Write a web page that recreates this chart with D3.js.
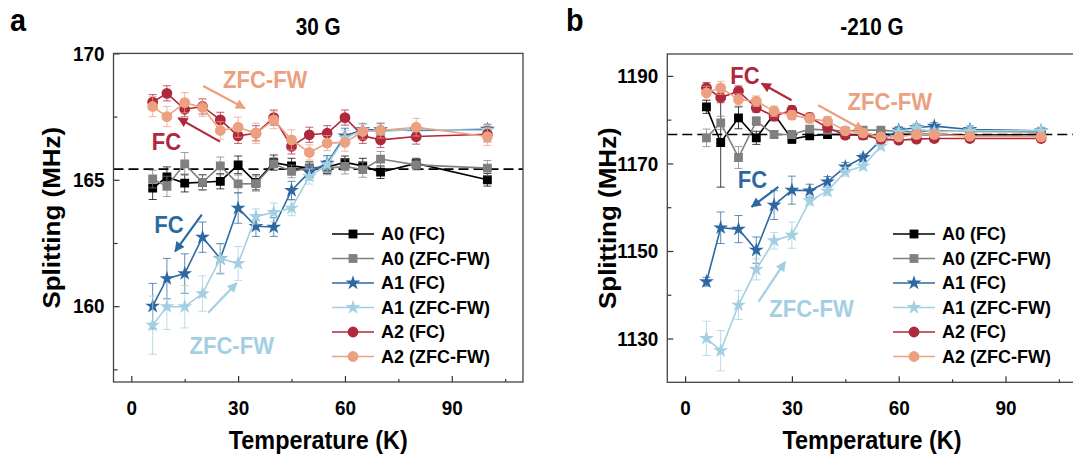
<!DOCTYPE html>
<html><head><meta charset="utf-8">
<script src="https://cdn.jsdelivr.net/npm/d3@7"></script>
<style>
body{margin:0;background:#fff}
svg{display:block}
text{font-family:"Liberation Sans",Arial,sans-serif;font-weight:bold}
</style>
</head><body>
<svg id="chart" width="1073" height="457"></svg>
<script>
// ---------------- DATA ----------------
const temps = [6,10,15,20,25,30,35,40,45,50,55,60,65,70,80,100];
const seriesNames = ["A0 (FC)","A0 (ZFC-FW)","A1 (FC)","A1 (ZFC-FW)","A2 (FC)","A2 (ZFC-FW)"];
const seriesColors = ["#000000","#808080","#2d68a2","#a3cfe3","#b0283b","#eca07f"];
const seriesShapes = ["square","square","star","star","circle","circle"];

// Panel a (30 G)
const aA0fc     = [164.67,165.11,164.87,164.90,164.94,165.59,164.90,165.68,165.55,165.46,165.50,165.69,165.55,165.30,165.65,165.00];
const aA0fcErr  = [0.45,0.40,0.35,0.30,0.30,0.35,0.30,0.30,0.30,0.25,0.25,0.25,0.30,0.25,0.20,0.25];
const aA0zfc    = [165.03,164.74,165.63,164.90,165.55,164.84,164.85,165.63,165.33,165.46,165.45,165.53,165.40,165.82,165.59,165.46];
const aA0zfcErr = [0.35,0.40,0.45,0.30,0.35,0.35,0.30,0.25,0.25,0.25,0.25,0.30,0.30,0.30,0.20,0.30];
const aA1fc     = [160.00,161.09,161.29,162.73,161.88,163.88,163.16,163.13,164.58,165.30,165.66,166.74,166.98,166.98,166.95,167.00];
const aA1fcErr  = [0.90,0.80,0.78,0.60,0.60,0.60,0.40,0.37,0.36,0.30,0.30,0.30,0.25,0.25,0.20,0.20];
const aA1zfc    = [159.25,159.98,159.98,160.50,161.88,161.69,163.55,163.71,163.88,165.13,165.60,166.66,166.95,166.90,167.00,166.95];
const aA1zfcErr = [1.15,0.90,0.84,0.70,0.57,0.67,0.30,0.37,0.30,0.30,0.30,0.30,0.25,0.25,0.20,0.20];
const aA2fc     = [168.07,168.42,167.79,167.90,167.37,166.74,166.84,167.46,166.32,166.78,166.84,167.46,166.74,166.58,166.71,166.80];
const aA2fcErr  = [0.30,0.30,0.30,0.30,0.30,0.30,0.30,0.30,0.30,0.30,0.30,0.30,0.30,0.30,0.30,0.30];
const aA2zfc    = [167.90,167.50,168.05,167.86,166.95,167.08,166.84,167.37,166.58,166.08,166.45,166.48,166.91,166.95,167.08,166.71];
const aA2zfcErr = [0.40,0.40,0.40,0.35,0.35,0.40,0.40,0.35,0.40,0.30,0.30,0.35,0.30,0.30,0.35,0.35];
const aRef = 165.42;

// Panel b (-210 G)
const bA0fc     = [1182.93,1174.79,1180.42,1175.85,1181.26,1175.55,1176.31,1176.61,1176.60,1176.50,1176.60,1176.70,1176.60,1176.60,1176.50,1176.60];
const bA0fcErr  = [1.5,10.2,2.5,1.5,1.5,1.0,0.8,0.8,0.6,0.6,0.6,0.6,0.6,0.6,0.6,0.6];
const bA0zfc    = [1175.85,1179.28,1171.36,1179.66,1176.61,1176.61,1177.83,1177.60,1177.40,1177.60,1177.60,1177.30,1177.20,1177.50,1177.30,1177.20];
const bA0zfcErr = [2.0,1.5,2.5,1.0,0.8,0.8,0.8,0.7,0.6,0.6,0.6,0.6,0.6,0.6,0.6,0.6];
const bA1fc     = [1142.98,1155.30,1155.00,1150.20,1160.48,1163.90,1163.75,1165.80,1169.23,1171.36,1175.32,1177.60,1178.20,1178.52,1177.76,1177.45];
const bA1fcErr  = [1.0,3.6,3.1,3.0,3.3,3.2,1.5,1.2,1.0,0.8,0.8,0.8,0.8,0.8,0.8,0.8];
const bA1zfc    = [1130.04,1127.22,1137.65,1145.79,1152.34,1153.63,1161.47,1163.68,1168.09,1169.38,1173.95,1177.22,1177.98,1177.22,1177.45,1177.45];
const bA1zfcErr = [3.9,4.6,3.3,2.4,1.9,3.0,1.0,1.0,1.0,0.8,0.8,0.8,0.8,0.8,0.8,0.8];
const bA2fc     = [1187.27,1185.06,1186.51,1182.70,1180.80,1182.17,1180.50,1178.20,1176.46,1176.46,1175.55,1175.32,1175.55,1175.70,1175.70,1175.70];
const bA2fcErr  = [1.2,1.2,1.2,1.0,1.0,1.0,1.0,0.8,0.8,0.8,0.8,0.8,0.8,0.8,0.8,0.8];
const bA2zfc    = [1186.13,1187.27,1184.60,1184.22,1181.94,1181.03,1180.27,1179.66,1177.45,1176.99,1176.08,1176.08,1176.61,1176.61,1176.23,1176.08];
const bA2zfcErr = [1.5,1.5,1.3,1.2,1.2,1.0,1.0,1.0,0.8,0.8,0.8,0.8,0.8,0.8,0.8,0.8];
const bRef = 1176.6;

// tick labels
const xMajorTicks = [0,30,60,90];
const xMinorTicks = [15,45,75,105];
const aYMajor = [160,165,170];
const aYMinor = [157.5,162.5,167.5];
const bYMajor = [1130,1150,1170,1190];
const bYMinor = [1140,1160,1180];

// annotations: [text, colorIndex, textT, textV, arrowT0, arrowV0, arrowT1, arrowV1]
const aNotes = [
  ["ZFC-FW",5, 37.6,168.62, 20.2,168.71, 31.9,167.83],
  ["FC",4, 9.9,166.19, 24.9,166.51, 13.2,167.44],
  ["FC",2, 10.6,162.9, 19.8,163.62, 12.3,162.17],
  ["ZFC-FW",3, 28.2,158.1, 21.6,159.74, 29.6,160.92]
];
const bNotes = [
  ["FC",4, 16.8,1188.26, 29.9,1184.45, 21.5,1188.26],
  ["ZFC-FW",5, 57.5,1182.17, 37.4,1183.3, 50.1,1177.6],
  ["FC",2, 18.9,1164.3, 26.2,1164.66, 18.7,1160.1],
  ["ZFC-FW",3, 35.5,1134.9, 20.6,1138.4, 28.1,1147.5]
];

// ---------------- DRAW ----------------
const SX = 0.9; // horizontal condensing of text
const svg = d3.select("#chart");
const defs = svg.append("defs");
seriesColors.forEach((c,i)=>{
  defs.append("marker").attr("id","arr"+i)
    .attr("viewBox","0 0 10 10").attr("refX",9).attr("refY",5)
    .attr("markerUnits","userSpaceOnUse").attr("markerWidth",12).attr("markerHeight",10)
    .attr("orient","auto")
    .append("path").attr("d","M0,0L10,5L0,10Z").attr("fill",c);
});

const symType = {square:d3.symbolSquare, circle:d3.symbolCircle, star:d3.symbolStar};
const symSize = {square:78, circle:92, star:68};
function symPath(shape){ return d3.symbol().type(symType[shape]).size(symSize[shape])(); }

function ctext(g, x, y, str, size, anchor){
  return g.append("text").attr("transform",`translate(${x},${y}) scale(${SX},1)`)
    .attr("text-anchor",anchor||"middle").attr("font-size",size).text(str);
}

function drawPanel(p){
  const x = d3.scaleLinear().domain([-5,110]).range([p.left,p.right]);
  const y = d3.scaleLinear().domain(p.yDomain).range([p.bottom,p.top]);
  const g = svg.append("g");
  const clipId = "clip"+p.id;
  defs.append("clipPath").attr("id",clipId).append("rect")
    .attr("x",p.left).attr("y",p.top).attr("width",p.right-p.left).attr("height",p.bottom-p.top);
  const plot = g.append("g").attr("clip-path",`url(#${clipId})`);

  // reference dashed line
  plot.append("line").attr("x1",p.left).attr("x2",p.right)
    .attr("y1",y(p.ref)).attr("y2",y(p.ref))
    .attr("stroke","#000").attr("stroke-width",1.6).attr("stroke-dasharray","10,5");

  const line = d3.line().x(d=>x(d.t)).y(d=>y(d.v));
  p.series.forEach((s,i)=>{
    const pts = temps.map((t,k)=>({t, v:s.vals[k], e:s.errs[k]}));
    const col = seriesColors[i];
    const sg = plot.append("g");
    pts.forEach(d=>{
      const eg = sg.append("g").attr("stroke",col).attr("stroke-opacity",0.75).attr("stroke-width",1);
      eg.append("line").attr("x1",x(d.t)).attr("x2",x(d.t)).attr("y1",y(d.v-d.e)).attr("y2",y(d.v+d.e));
      eg.append("line").attr("x1",x(d.t)-4).attr("x2",x(d.t)+4).attr("y1",y(d.v-d.e)).attr("y2",y(d.v-d.e));
      eg.append("line").attr("x1",x(d.t)-4).attr("x2",x(d.t)+4).attr("y1",y(d.v+d.e)).attr("y2",y(d.v+d.e));
    });
    sg.append("path").attr("d",line(pts)).attr("fill","none").attr("stroke",col).attr("stroke-width",1.6);
    sg.selectAll("path.m").data(pts).join("path").attr("class","m")
      .attr("d",symPath(seriesShapes[i]))
      .attr("transform",d=>`translate(${x(d.t)},${y(d.v)})`)
      .attr("fill",col);
  });

  // annotations
  p.notes.forEach(n=>{
    const col = seriesColors[n[1]];
    g.append("line").attr("x1",x(n[4])).attr("y1",y(n[5])).attr("x2",x(n[6])).attr("y2",y(n[7]))
      .attr("stroke",col).attr("stroke-width",2.2).attr("marker-end",`url(#arr${n[1]})`);
    ctext(g, x(n[2]), y(n[3]), n[0], 24.5).attr("fill",col);
  });

  // axes (ticks inward)
  const xa = g.append("g").attr("transform",`translate(0,${p.bottom})`)
    .call(d3.axisBottom(x).tickValues(xMajorTicks).tickSize(-6).tickPadding(18).tickFormat(d3.format("d")));
  const xm = g.append("g").attr("transform",`translate(0,${p.bottom})`)
    .call(d3.axisBottom(x).tickValues(xMinorTicks).tickSize(-3).tickFormat(""));
  const ya = g.append("g").attr("transform",`translate(${p.left},0)`)
    .call(d3.axisLeft(y).tickValues(p.yMajor).tickSize(-6).tickPadding(9).tickFormat(d3.format("d")));
  const ym = g.append("g").attr("transform",`translate(${p.left},0)`)
    .call(d3.axisLeft(y).tickValues(p.yMinor).tickSize(-4).tickFormat(""));
  [xa,xm,ya,ym].forEach(a=>{
    a.select(".domain").remove();
    a.selectAll(".tick line").attr("stroke","#333").attr("stroke-width",1.2);
    a.selectAll(".tick text").attr("font-size",21).attr("fill","#000")
      .style("font-family",'"Liberation Sans",Arial,sans-serif').style("font-weight","bold")
      .each(function(){
        const t = d3.select(this);
        const tx = +t.attr("x")||0, ty = +t.attr("y")||0;
        t.attr("transform",`translate(${tx},${ty}) scale(${SX},1)`).attr("x",0).attr("y",0);
      });
  });

  // frame
  g.append("rect").attr("x",p.left).attr("y",p.top).attr("width",p.right-p.left).attr("height",p.bottom-p.top)
    .attr("fill","none").attr("stroke","#444").attr("stroke-width",1.3);

  // legend
  p.series.forEach((s,i)=>{
    const ly = p.legY + i*24.5;
    const col = seriesColors[i];
    g.append("line").attr("x1",p.legX).attr("x2",p.legX+42).attr("y1",ly).attr("y2",ly)
      .attr("stroke",col).attr("stroke-width",1.6);
    g.append("path").attr("d",symPath(seriesShapes[i])).attr("transform",`translate(${p.legX+21},${ly})`).attr("fill",col);
    g.append("text").attr("x",p.legX+49).attr("y",ly).attr("dy","0.36em").attr("font-size",18).text(seriesNames[i]);
  });

  // titles
  const cx = (p.left+p.right)/2;
  ctext(g, cx, 35, p.title, 23);
  ctext(g, cx, 449, "Temperature (K)", 26);
  g.append("text").attr("transform",`translate(${p.yLabelX},${(p.top+p.bottom)/2}) scale(${SX},1) rotate(-90)`)
    .attr("text-anchor","middle").attr("font-size",26).text("Splitting (MHz)");
  ctext(g, p.letterX, 31, p.letter, 32, "start");
}

drawPanel({
  id:"a", left:113.5, right:523, top:53.4, bottom:382, yDomain:[157,170],
  ref:aRef, yMajor:aYMajor, yMinor:aYMinor, title:"30 G", letter:"a", letterX:10, yLabelX:60,
  legX:332, legY:234, notes:aNotes,
  series:[
    {vals:aA0fc, errs:aA0fcErr},{vals:aA0zfc, errs:aA0zfcErr},
    {vals:aA1fc, errs:aA1fcErr},{vals:aA1zfc, errs:aA1zfcErr},
    {vals:aA2fc, errs:aA2fcErr},{vals:aA2zfc, errs:aA2zfcErr}]
});
drawPanel({
  id:"b", left:667.3, right:1076.7, top:54, bottom:382.3, yDomain:[1120,1195],
  ref:bRef, yMajor:bYMajor, yMinor:bYMinor, title:"-210 G", letter:"b", letterX:566, yLabelX:616,
  legX:893, legY:234, notes:bNotes,
  series:[
    {vals:bA0fc, errs:bA0fcErr},{vals:bA0zfc, errs:bA0zfcErr},
    {vals:bA1fc, errs:bA1fcErr},{vals:bA1zfc, errs:bA1zfcErr},
    {vals:bA2fc, errs:bA2fcErr},{vals:bA2zfc, errs:bA2zfcErr}]
});
</script>
</body></html>
